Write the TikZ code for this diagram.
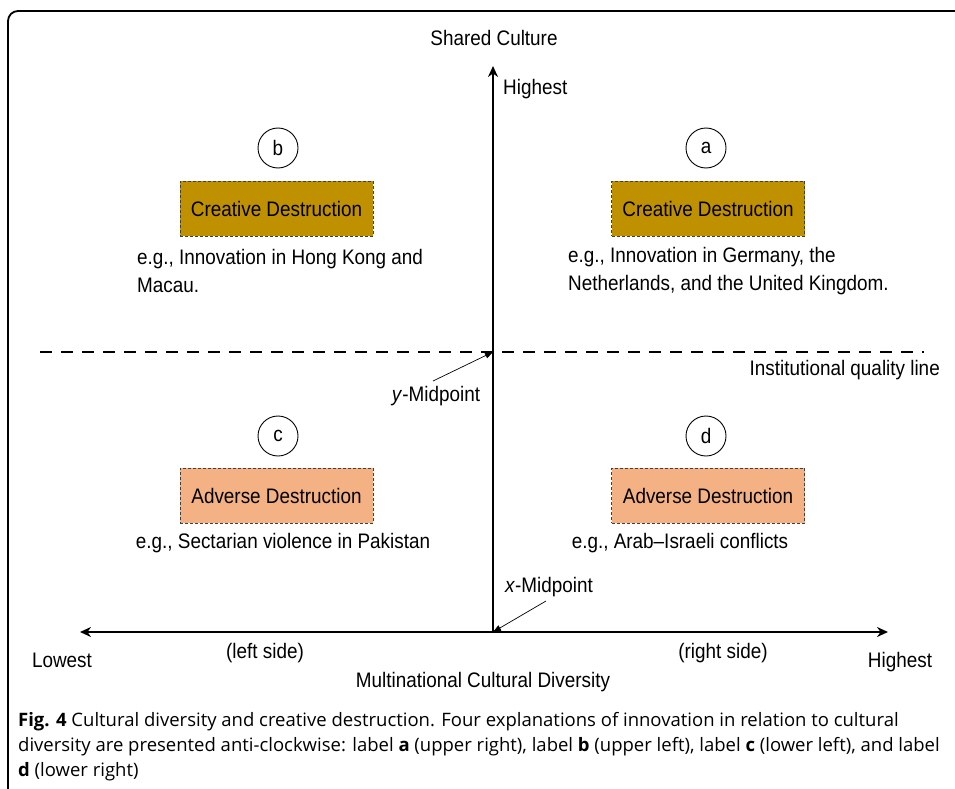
\documentclass[tikz,border=0pt]{standalone}
\usepackage{fontspec}
\setmainfont{Liberation Sans}[FakeStretch=0.9]
\newfontfamily\capfont{Open Sans}[FakeStretch=1.0]
\usetikzlibrary{arrows.meta}
\definecolor{creative}{HTML}{BF9000}
\definecolor{adverse}{HTML}{F4B183}
\begin{document}
\begin{tikzpicture}[x=1pt,y=-1pt,
  lbl/.style={font=\fontsize{21}{28}\selectfont, inner sep=0pt},
  circ/.style={circle, draw, line width=0.9pt, minimum size=40pt, inner sep=0pt, font=\fontsize{21}{24}\selectfont},
  cbox/.style={draw=black!75, dash pattern=on 3pt off 2pt, line width=1pt, minimum width=193pt, minimum height=55pt, font=\fontsize{21}{24}\selectfont, inner sep=0pt},
  axisline/.style={line width=2.8pt, -{Stealth[length=11pt,width=10pt]}},
  qline/.style={line width=2.8pt, dash pattern=on 12pt off 9pt},
  ptr/.style={line width=0.7pt, -{Triangle[length=8pt,width=6pt]}},
  frame/.style={line width=1.8pt, rounded corners=10pt}]
\useasboundingbox (0,0) rectangle (955,789);
\draw[frame] (955,11) -- (8,11) -- (8,789);

% axes
\coordinate (top) at (493,66);
\coordinate (org) at (493,632);
\coordinate (lft) at (80,632);
\coordinate (rgt) at (888,632);
\coordinate (ql) at (40,352);
\coordinate (qr) at (924,352);
\coordinate (yc) at (493,352);
\draw[axisline] (org) -- (top);
\draw[line width=2.8pt, {Stealth[length=11pt,width=10pt]}-{Stealth[length=11pt,width=10pt]}] (lft) -- (rgt);
\draw[qline] (ql) -- (qr);

% axis labels
\node[lbl] (shared) at (494,38) {Shared Culture};
\node[lbl, anchor=west] (yhigh) at (503,89) {Highest};
\node[lbl, anchor=east] (iql) at (940,370) {Institutional quality line};
\node[lbl] (ymid) at (436,396) {\textit{y}-Midpoint};
\node[lbl] (xmid) at (549,587) {\textit{x}-Midpoint};
\node[lbl] (lowest) at (62,660) {Lowest};
\node[lbl] (lside) at (265,653) {(left side)};
\node[lbl] (rside) at (723,653) {(right side)};
\node[lbl] (xhigh) at (900,662) {Highest};
\node[lbl] (mcd) at (483,682) {Multinational Cultural Diversity};

\coordinate (ys) at (433,381);
\coordinate (xs) at (546,601);
\draw[ptr] (ys) -- (yc);
\draw[ptr] (xs) -- (org);

% quadrants
\node[circ] (cb) at (278,148) {b};
\node[circ] (ca) at (706,148) {a};
\node[circ] (cc) at (278,436) {c};
\node[circ] (cd) at (706,436) {d};

\node[cbox, fill=creative] (bb) at (276.5,208.5) {Creative Destruction};
\node[cbox, fill=creative] (ba) at (708,208.5) {Creative Destruction};
\node[cbox, fill=adverse] (bc) at (276.5,495.5) {Adverse Destruction};
\node[cbox, fill=adverse] (bd) at (708,495.5) {Adverse Destruction};

\node[lbl, anchor=west, align=left] (eb) at (137,271) {e.g., Innovation in Hong Kong and\\Macau.};
\node[lbl, anchor=west, align=left] (ea) at (568,271) {e.g., Innovation in Germany, the\\Netherlands, and the United Kingdom.};
\node[lbl] (ec) at (283,543) {e.g., Sectarian violence in Pakistan};
\node[lbl] (ed) at (680,543) {e.g., Arab--Israeli conflicts};

% caption
\node[anchor=north west, align=left, inner sep=0pt, font=\capfont\fontsize{18.5}{25}\selectfont] (cap) at (18,712)
{\textbf{Fig. 4} Cultural diversity and creative destruction. Four explanations of innovation in relation to cultural\\
diversity are presented anti-clockwise: label \textbf{a} (upper right), label \textbf{b} (upper left), label \textbf{c} (lower left), and label\\
\textbf{d} (lower right)};
\end{tikzpicture}
\end{document}
